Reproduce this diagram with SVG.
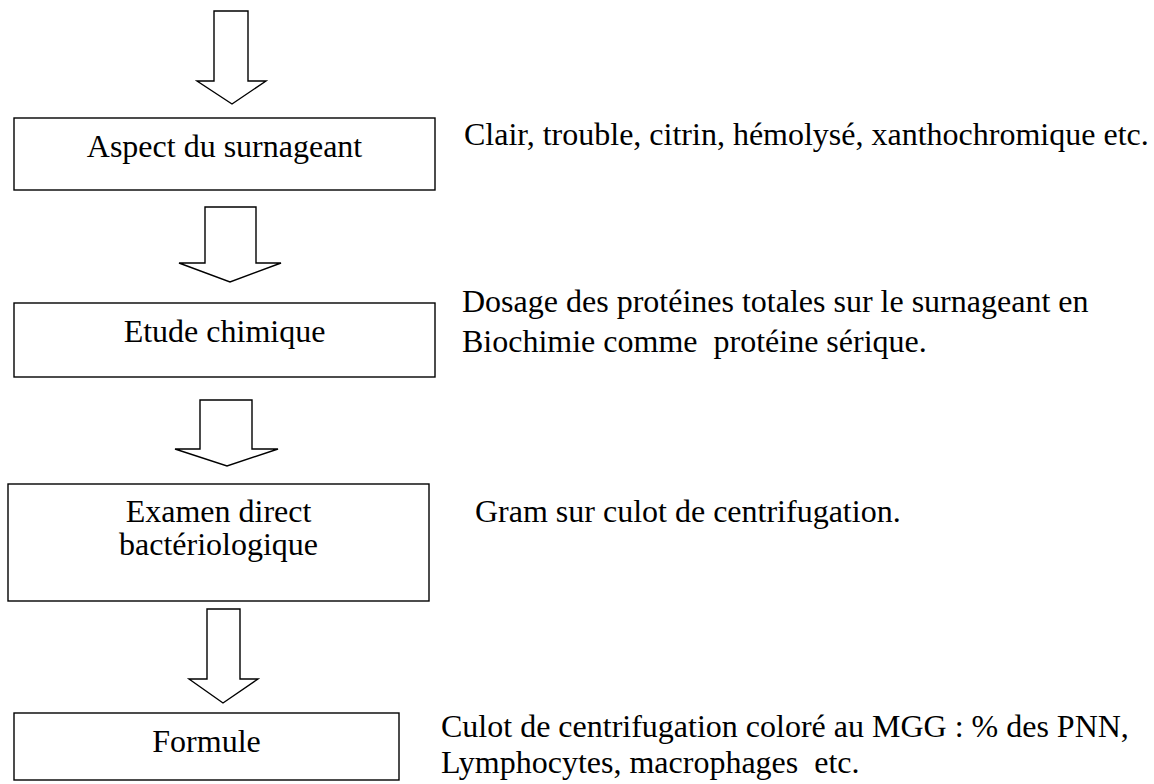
<svg xmlns="http://www.w3.org/2000/svg" width="1154" height="784" viewBox="0 0 1154 784">
<style>
.box{fill:#fff;stroke:#000;stroke-width:1.4}
.arr{fill:#fff;stroke:#000;stroke-width:1.4;stroke-linejoin:miter}
.t{font-family:"Liberation Serif",Tinos,"Times New Roman",Times,serif;font-size:32px;fill:#000}
.c{text-anchor:middle}
</style>
<rect width="1154" height="784" fill="#fff"/>
<g id="connectors">
<polygon class="arr" points="214,11 248,11 248,81 266,81 232,104 197,81 214,81"/>
<polygon class="arr" points="205,207 256,207 256,263 281,263 230,282 179,263 205,263"/>
<polygon class="arr" points="200,400 252,400 252,449 278,449 227,466 175,449 200,449"/>
<polygon class="arr" points="207,609 240,609 240,679 258,679 223,703 189,679 207,679"/>
</g>
<g id="node-aspect">
<rect class="box" x="14" y="118" width="421" height="72"/>
<text class="t c" x="224.5" y="157" font-family="Liberation Serif, serif">Aspect du surnageant</text>
</g>
<g id="note-aspect">
<text class="t" x="464" y="145" font-family="Liberation Serif, serif">Clair, trouble, citrin, hémolysé, xanthochromique etc.</text>
</g>
<g id="node-etude">
<rect class="box" x="14" y="303" width="421" height="74"/>
<text class="t c" x="224.5" y="342" font-family="Liberation Serif, serif">Etude chimique</text>
</g>
<g id="note-etude">
<text class="t" x="462" y="312" font-family="Liberation Serif, serif">Dosage des protéines totales sur le surnageant en</text>
<text class="t" x="462" y="352" font-family="Liberation Serif, serif" xml:space="preserve">Biochimie comme  protéine sérique.</text>
</g>
<g id="node-examen">
<rect class="box" x="8" y="484" width="421" height="117"/>
<text class="t c" x="218.5" y="522" font-family="Liberation Serif, serif">Examen direct</text>
<text class="t c" x="218.5" y="555" font-family="Liberation Serif, serif">bactériologique</text>
</g>
<g id="note-examen">
<text class="t" x="475" y="522" font-family="Liberation Serif, serif">Gram sur culot de centrifugation.</text>
</g>
<g id="node-formule">
<rect class="box" x="14" y="713" width="385" height="67"/>
<text class="t c" x="206.5" y="752" font-family="Liberation Serif, serif">Formule</text>
</g>
<g id="note-formule">
<text class="t" x="441" y="737" font-family="Liberation Serif, serif">Culot de centrifugation coloré au MGG : % des PNN,</text>
<text class="t" x="441" y="773" font-family="Liberation Serif, serif" xml:space="preserve">Lymphocytes, macrophages  etc.</text>
</g>
</svg>
